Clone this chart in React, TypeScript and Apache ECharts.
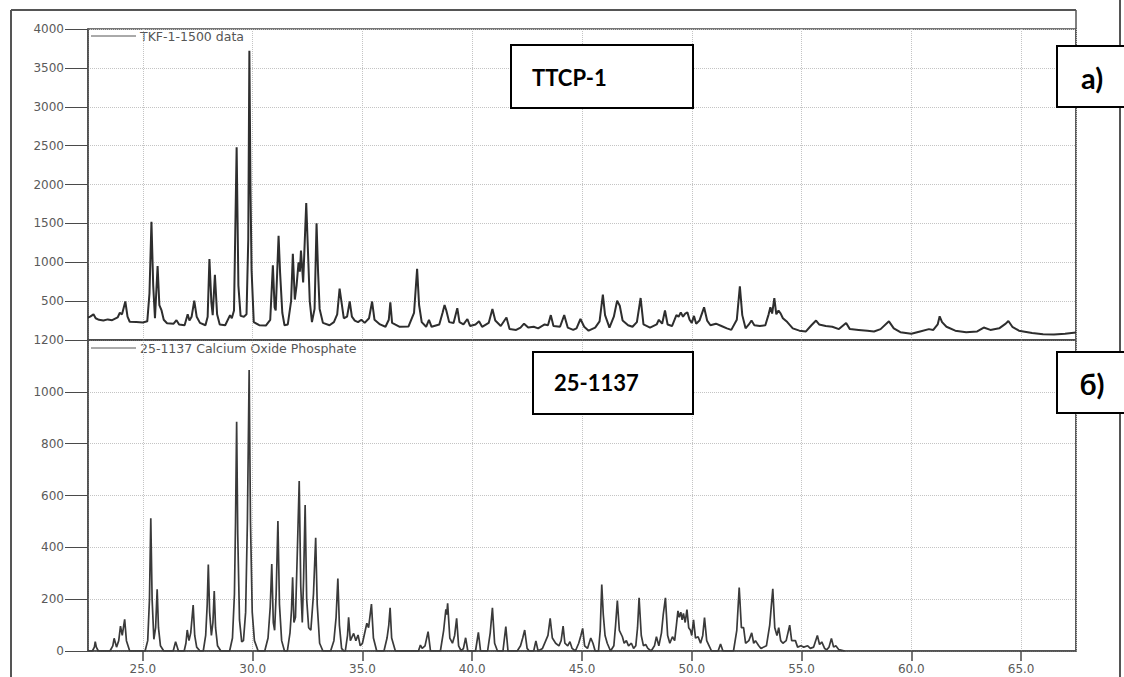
import React, { useEffect, useRef } from "react";
import * as echarts from "echarts";

// 2θ (deg), intensity — measured pattern TKF-1-1500
const tkfData: [number, number][] = [
  [22.5, 290], [22.6, 300], [22.75, 330], [22.85, 280], [23.0, 260], [23.2, 250], [23.4, 265], [23.6, 255],
  [23.85, 290], [23.95, 350], [24.05, 330], [24.2, 495], [24.3, 300], [24.4, 235], [24.7, 230], [25.0, 225],
  [25.2, 240], [25.3, 600], [25.39, 1520], [25.47, 700], [25.55, 280], [25.67, 950], [25.75, 450], [25.85, 380],
  [25.95, 260], [26.1, 215], [26.4, 210], [26.53, 255], [26.65, 200], [26.9, 190], [27.04, 330], [27.12, 250],
  [27.22, 300], [27.34, 505], [27.45, 300], [27.6, 220], [27.85, 190], [27.95, 300], [28.03, 1040], [28.12, 480],
  [28.18, 320], [28.28, 840], [28.38, 330], [28.5, 200], [28.75, 190], [28.97, 320], [29.05, 280], [29.15, 380],
  [29.27, 2480], [29.35, 700], [29.45, 310], [29.6, 300], [29.72, 330], [29.8, 1300], [29.85, 3720], [29.9, 1960],
  [29.95, 900], [30.05, 230], [30.3, 190], [30.6, 185], [30.8, 260], [30.92, 960], [31.0, 420], [31.05, 380],
  [31.18, 1340], [31.25, 860], [31.35, 350], [31.45, 190], [31.6, 200], [31.75, 500], [31.83, 1110], [31.92, 520],
  [32.0, 700], [32.09, 1000], [32.15, 880], [32.2, 1150], [32.3, 740], [32.44, 1760], [32.52, 1130], [32.6, 500],
  [32.7, 230], [32.82, 400], [32.91, 1500], [32.98, 870], [33.05, 400], [33.2, 220], [33.5, 190], [33.7, 230],
  [33.85, 330], [33.96, 660], [34.05, 480], [34.15, 280], [34.3, 300], [34.42, 495], [34.52, 300], [34.65, 250],
  [34.8, 230], [34.95, 260], [35.1, 220], [35.3, 280], [35.44, 495], [35.55, 260], [35.8, 200], [36.05, 170],
  [36.2, 260], [36.27, 485], [36.35, 220], [36.7, 170], [37.1, 175], [37.35, 350], [37.49, 915], [37.58, 450],
  [37.7, 230], [37.9, 170], [38.03, 260], [38.15, 170], [38.5, 200], [38.65, 350], [38.74, 450], [38.82, 380],
  [38.95, 230], [39.15, 220], [39.32, 410], [39.42, 230], [39.6, 200], [39.78, 270], [39.9, 180], [40.15, 200],
  [40.31, 240], [40.45, 170], [40.75, 220], [40.92, 400], [41.05, 250], [41.3, 180], [41.56, 290], [41.7, 140],
  [42.0, 130], [42.2, 160], [42.36, 210], [42.55, 160], [42.8, 170], [43.0, 150], [43.3, 200], [43.45, 190],
  [43.58, 320], [43.7, 180], [44.0, 170], [44.19, 320], [44.35, 160], [44.6, 130], [44.75, 150], [44.93, 270],
  [45.1, 170], [45.3, 120], [45.6, 160], [45.8, 240], [45.95, 585], [46.05, 320], [46.25, 160], [46.45, 300],
  [46.6, 505], [46.72, 440], [46.85, 250], [47.1, 190], [47.3, 170], [47.5, 230], [47.67, 540], [47.8, 200],
  [48.1, 160], [48.4, 200], [48.5, 260], [48.65, 210], [48.78, 380], [48.9, 200], [49.1, 180], [49.3, 320],
  [49.4, 300], [49.5, 355], [49.6, 300], [49.7, 340], [49.8, 355], [49.9, 260], [50.0, 220], [50.1, 310],
  [50.2, 210], [50.35, 250], [50.56, 420], [50.7, 250], [50.85, 190], [51.1, 210], [51.35, 180], [51.6, 150],
  [51.8, 130], [52.05, 260], [52.19, 690], [52.3, 320], [52.45, 150], [52.6, 200], [52.72, 250], [52.85, 190],
  [53.1, 180], [53.35, 190], [53.5, 330], [53.58, 420], [53.66, 340], [53.76, 540], [53.85, 330], [53.95, 380],
  [54.05, 340], [54.15, 280], [54.35, 230], [54.6, 150], [54.9, 120], [55.2, 110], [55.45, 190], [55.66, 250],
  [55.8, 200], [56.1, 180], [56.4, 170], [56.7, 140], [57.03, 220], [57.2, 140], [57.6, 130], [58.0, 120],
  [58.3, 110], [58.6, 140], [58.98, 240], [59.2, 150], [59.5, 100], [60.0, 80], [60.4, 110], [60.8, 140],
  [61.0, 130], [61.2, 200], [61.29, 305], [61.4, 230], [61.6, 170], [62.0, 120], [62.5, 100], [63.0, 110],
  [63.3, 160], [63.6, 130], [64.0, 150], [64.3, 210], [64.42, 245], [64.6, 170], [64.9, 120], [65.5, 90],
  [66.0, 75], [66.5, 70], [67.0, 80], [67.5, 95],
];

// 2θ (deg), intensity — reference pattern 25-1137 Calcium Oxide Phosphate
const refData: [number, number][] = [
  [22.5, 0], [22.7, 0], [22.79, 15], [22.83, 36], [22.88, 15], [22.97, 0],
  [23.5, 0], [23.63, 20], [23.69, 49], [23.8, 15], [23.9, 40], [23.98, 96], [24.06, 60], [24.17, 122], [24.25, 40], [24.4, 0],
  [25.1, 0], [25.22, 40], [25.3, 200], [25.36, 512], [25.42, 200], [25.5, 45], [25.58, 90], [25.65, 238], [25.71, 90], [25.8, 20], [25.95, 0],
  [26.38, 0], [26.49, 36], [26.62, 0],
  [26.88, 0], [26.96, 30], [27.02, 81], [27.1, 40], [27.18, 70], [27.29, 177], [27.36, 60], [27.45, 15], [27.6, 0],
  [27.75, 0], [27.86, 60], [27.93, 180], [27.98, 334], [28.04, 150], [28.12, 60], [28.19, 110], [28.25, 231], [28.31, 90], [28.4, 20], [28.55, 0],
  [28.95, 0], [29.08, 50], [29.17, 220], [29.22, 500], [29.27, 885], [29.32, 450], [29.4, 120], [29.5, 35], [29.58, 40],
  [29.68, 150], [29.76, 500], [29.84, 1084], [29.9, 500], [29.98, 150], [30.08, 40], [30.25, 0],
  [30.55, 0], [30.7, 50], [30.8, 170], [30.87, 336], [30.94, 110], [31.0, 80], [31.07, 220], [31.15, 502], [31.22, 180], [31.32, 40], [31.45, 0],
  [31.58, 0], [31.7, 70], [31.77, 160], [31.82, 284], [31.88, 110], [31.95, 130], [32.04, 400], [32.12, 656], [32.19, 250],
  [32.26, 110], [32.32, 280], [32.39, 563], [32.46, 200], [32.55, 90], [32.65, 80], [32.77, 220], [32.87, 437],
  [32.94, 180], [33.05, 30], [33.2, 0],
  [33.55, 0], [33.7, 40], [33.8, 130], [33.88, 280], [33.95, 100], [34.05, 10], [34.15, 0],
  [34.22, 0], [34.32, 60], [34.37, 130], [34.45, 40], [34.6, 68], [34.7, 40], [34.8, 62], [34.9, 20], [35.0, 30], [35.2, 107],
  [35.28, 90], [35.41, 181], [35.5, 50], [35.65, 0],
  [35.98, 0], [36.12, 50], [36.2, 100], [36.26, 167], [36.33, 50], [36.5, 0],
  [37.55, 0], [37.64, 23], [37.72, 10], [37.85, 20], [37.99, 75], [38.1, 0],
  [38.55, 0], [38.7, 80], [38.8, 161], [38.84, 140], [38.88, 184], [38.98, 50], [39.1, 30], [39.2, 60],
  [39.29, 126], [39.38, 20], [39.5, 0], [39.6, 10], [39.7, 51], [39.8, 0],
  [40.15, 0], [40.28, 72], [40.38, 0],
  [40.7, 0], [40.82, 70], [40.92, 167], [41.02, 30], [41.15, 0],
  [41.4, 0], [41.53, 94], [41.63, 0],
  [42.05, 0], [42.2, 20], [42.3, 50], [42.39, 81], [42.5, 10], [42.6, 0],
  [42.8, 0], [42.9, 39], [43.0, 0],
  [43.2, 10], [43.35, 40], [43.45, 60], [43.55, 126], [43.65, 50], [43.8, 30], [43.95, 20], [44.05, 40],
  [44.14, 96], [44.22, 30], [44.35, 20], [44.45, 36], [44.55, 10], [44.7, 0],
  [44.85, 30], [44.95, 60], [45.03, 87], [45.12, 20], [45.25, 10], [45.4, 50], [45.5, 30], [45.6, 0],
  [45.75, 0], [45.83, 80], [45.9, 256], [45.97, 140], [46.05, 60], [46.15, 30], [46.3, 0],
  [46.45, 20], [46.53, 100], [46.61, 195], [46.7, 80], [46.84, 55], [46.92, 30], [47.02, 40], [47.12, 20],
  [47.25, 30], [47.35, 10], [47.45, 20], [47.53, 90], [47.6, 205], [47.7, 60], [47.8, 20], [47.9, 25],
  [48.0, 10], [48.15, 0], [48.3, 20], [48.39, 55], [48.5, 20], [48.62, 70], [48.7, 140], [48.8, 205],
  [48.9, 60], [49.0, 30], [49.12, 55], [49.22, 40], [49.3, 100], [49.37, 155], [49.43, 130], [49.5, 150],
  [49.56, 120], [49.62, 145], [49.7, 110], [49.78, 160], [49.86, 90], [49.94, 80], [50.0, 60], [50.08, 120],
  [50.17, 50], [50.29, 55], [50.4, 30], [50.5, 60], [50.58, 129], [50.68, 40], [50.79, 20], [50.9, 0],
  [51.2, 0], [51.31, 27], [51.42, 0],
  [51.9, 0], [52.05, 80], [52.16, 245], [52.26, 90], [52.36, 90], [52.45, 30], [52.6, 40], [52.73, 70],
  [52.82, 30], [52.9, 40], [53.05, 20], [53.15, 10], [53.4, 20], [53.55, 100], [53.62, 170], [53.69, 240],
  [53.78, 90], [53.88, 60], [53.96, 90], [54.05, 40], [54.15, 30], [54.3, 40], [54.46, 100], [54.55, 40],
  [54.62, 40], [54.72, 40], [54.82, 15], [54.97, 20], [55.1, 15], [55.28, 20], [55.4, 10], [55.55, 15],
  [55.72, 60], [55.82, 25], [55.92, 35], [56.05, 10], [56.15, 5], [56.25, 15], [56.36, 48], [56.46, 15],
  [56.56, 20], [56.7, 5], [56.97, 0],
];

const X_MIN = 22.5;
const X_MAX = 67.5;
const TOP_Y_MAX = 4000;
const TOP_Y_STEP = 500;
const BOT_Y_MAX = 1200;
const BOT_Y_STEP = 200;

const topLegend = "TKF-1-1500 data";
const bottomLegend = "25-1137 Calcium Oxide Phosphate";
const topBoxLabel = "TTCP-1";
const bottomBoxLabel = "25-1137";
const topPanelLabel = "а)";
const bottomPanelLabel = "б)";

const LABEL_FONT = "'DejaVu Sans', sans-serif";
const BOX_FONT = "Lato, 'Open Sans', sans-serif";

export default function App() {
  const ref = useRef<HTMLDivElement>(null);
  useEffect(() => {
    if (!ref.current) return;
    const chart = echarts.init(ref.current, undefined, { renderer: "svg" });
    const gridStyle = { show: true, borderColor: "#4a4a4a", borderWidth: 1.5, backgroundColor: "transparent" };
    const splitLine = { show: true, lineStyle: { color: "#c4c4c4", type: "dotted" as const, width: 1 } };
    const axisLabel = { color: "#5a5a5a", fontFamily: LABEL_FONT, fontSize: 12 };
    const line = (x1: number, y1: number, x2: number, y2: number, w = 1.5, c = "#555") => ({
      type: "line",
      shape: { x1, y1, x2, y2 },
      style: { stroke: c, lineWidth: w },
      silent: true,
    });
    const box = (x: number, y: number, w: number, h: number) => ({
      type: "rect",
      shape: { x, y, width: w, height: h },
      style: { fill: "#fff", stroke: "#000", lineWidth: 2 },
      z: 100,
    });
    const boxText = (x: number, y: number, text: string, size: number, align = "left") => ({
      type: "text",
      x,
      y,
      style: { text, font: `bold ${size}px ${BOX_FONT}`, fill: "#000", textAlign: align, textVerticalAlign: "middle" },
      z: 101,
    });
    chart.setOption({
      animation: false,
      backgroundColor: "#fff",
      grid: [
        { left: 88, top: 29, width: 988, height: 311, ...gridStyle },
        { left: 88, top: 340, width: 988, height: 311, ...gridStyle },
      ],
      xAxis: [
        {
          gridIndex: 0,
          type: "value",
          min: X_MIN,
          max: X_MAX,
          minInterval: 5,
          maxInterval: 5,
          axisLine: { show: true, lineStyle: { color: "#4a4a4a", width: 1.5 } },
          axisTick: { show: false },
          axisLabel: { show: false },
          splitLine,
        },
        {
          gridIndex: 1,
          type: "value",
          min: X_MIN,
          max: X_MAX,
          minInterval: 5,
          maxInterval: 5,
          axisLine: { show: true, lineStyle: { color: "#4a4a4a", width: 1.5 } },
          axisTick: { show: true, length: 10, lineStyle: { color: "#4a4a4a", width: 1.5 } },
          axisLabel: {
            ...axisLabel,
            margin: 12,
            showMinLabel: false,
            showMaxLabel: false,
            formatter: (v: number) => v.toFixed(1),
          },
          splitLine,
        },
      ],
      yAxis: [
        {
          gridIndex: 0,
          type: "value",
          min: 0,
          max: TOP_Y_MAX,
          interval: TOP_Y_STEP,
          axisLine: { show: true, lineStyle: { color: "#4a4a4a", width: 1.5 } },
          axisTick: { show: true, length: 23, lineStyle: { color: "#4a4a4a", width: 1 } },
          axisLabel: { ...axisLabel, margin: 24, formatter: (v: number) => (v === 0 ? "" : String(v)) },
          splitLine,
        },
        {
          gridIndex: 1,
          type: "value",
          min: 0,
          max: BOT_Y_MAX,
          interval: BOT_Y_STEP,
          axisLine: { show: true, lineStyle: { color: "#4a4a4a", width: 1.5 } },
          axisTick: { show: true, length: 23, lineStyle: { color: "#4a4a4a", width: 1 } },
          axisLabel: { ...axisLabel, margin: 24, formatter: (v: number) => String(v) },
          splitLine,
        },
      ],
      series: [
        {
          name: topLegend,
          type: "line",
          xAxisIndex: 0,
          yAxisIndex: 0,
          data: tkfData,
          showSymbol: false,
          symbol: "none",
          lineStyle: { color: "#2e2e2e", width: 2 },
        },
        {
          name: bottomLegend,
          type: "line",
          xAxisIndex: 1,
          yAxisIndex: 1,
          data: refData,
          showSymbol: false,
          symbol: "none",
          lineStyle: { color: "#3a3a3a", width: 1.7 },
        },
      ],
      graphic: [
        line(11, 10, 11, 677, 2, "#555"),
        line(11, 10, 1076, 10, 2, "#555"),
        line(1076, 10, 1076, 651, 1.5, "#555"),
        line(1120, 0, 1120, 677, 2, "#555"),
        line(91, 36, 136, 36, 1, "#555"),
        { type: "text", x: 140, y: 36, style: { text: topLegend, font: `12.5px ${LABEL_FONT}`, fill: "#555", textVerticalAlign: "middle" } },
        line(91, 348, 136, 348, 1, "#555"),
        { type: "text", x: 140, y: 348, style: { text: bottomLegend, font: `12.5px ${LABEL_FONT}`, fill: "#555", textVerticalAlign: "middle" } },
        box(511, 45, 182, 63),
        boxText(532, 77, topBoxLabel, 22),
        box(533, 352, 160, 62),
        boxText(554, 382, bottomBoxLabel, 22),
        box(1057, 46, 70, 61),
        boxText(1092, 77, topPanelLabel, 29, "center"),
        box(1057, 352, 70, 61),
        boxText(1092, 383, bottomPanelLabel, 29, "center"),
      ],
    });
    return () => chart.dispose();
  }, []);
  return <div ref={ref} style={{ position: "absolute", left: 0, top: 0, width: 1124, height: 677 }} />;
}
